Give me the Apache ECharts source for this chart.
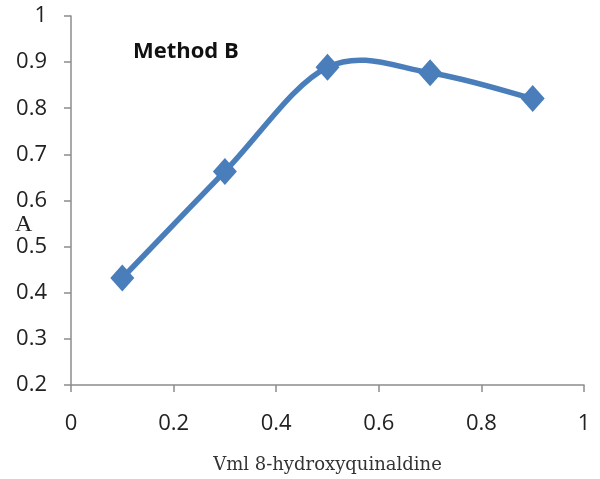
<!DOCTYPE html>
<html><head><meta charset="utf-8">
<script src="https://cdn.jsdelivr.net/npm/echarts@6/dist/echarts.min.js"></script>
<style>html,body{margin:0;padding:0;background:#fff}#c{width:600px;height:479px}</style>
</head><body><div id="c"></div>
<script>
var xValues = [0.1, 0.3, 0.5, 0.7, 0.9];
var absorbance = [0.432, 0.663, 0.889, 0.877, 0.821];
var seriesName = 'Method B';
var xAxisTitle = 'Vml 8-hydroxyquinaldine';
var yAxisTitle = 'A';

var lineColor = '#4a7ebb';
var axisColor = '#8c8c8c';
var chart = echarts.init(document.getElementById('c'));

// Excel-style smoothed line: cubic Bezier segments through the data points
function renderSegment(params, api) {
  var i = params.dataIndex;
  var n = xValues.length;
  function P(k) {
    k = Math.max(0, Math.min(n - 1, k));
    return api.coord([xValues[k], absorbance[k]]);
  }
  var p0 = P(i - 1), p1 = P(i), p2 = P(i + 1), p3 = P(i + 2);
  var t = 1 / 6;
  return {
    type: 'bezierCurve',
    shape: {
      x1: p1[0], y1: p1[1], x2: p2[0], y2: p2[1],
      cpx1: p1[0] + (p2[0] - p0[0]) * t, cpy1: p1[1] + (p2[1] - p0[1]) * t,
      cpx2: p2[0] - (p3[0] - p1[0]) * t, cpy2: p2[1] - (p3[1] - p1[1]) * t
    },
    style: {stroke: lineColor, lineWidth: 5.5, fill: null, lineCap: 'round'}
  };
}

chart.setOption({
  animation: false,
  backgroundColor: '#ffffff',
  title: {text: seriesName, left: 128, top: 36,
    textStyle: {fontFamily: 'Open Sans', fontWeight: 'bold', fontSize: 22, color: '#111'}},
  grid: {left: 71, right: 16, top: 16, bottom: 93},
  xAxis: {type: 'value', min: 0, max: 1, interval: 0.2,
    name: xAxisTitle, nameLocation: 'middle', nameGap: 71,
    nameTextStyle: {fontFamily: 'DejaVu Serif', fontSize: 18, color: '#333'},
    axisLine: {show: true, lineStyle: {color: axisColor, width: 1.5}},
    axisTick: {show: true, length: 7, lineStyle: {color: axisColor, width: 1.5}},
    axisLabel: {margin: 28, fontFamily: 'Open Sans', fontSize: 22, color: '#222',
      formatter: function(v){return String(+v.toFixed(1));}},
    splitLine: {show: false}},
  yAxis: {type: 'value', min: 0.2, max: 1, interval: 0.1,
    axisLine: {show: true, lineStyle: {color: axisColor, width: 1.5}},
    axisTick: {show: true, length: 7, lineStyle: {color: axisColor, width: 1.5}},
    axisLabel: {margin: 24, fontFamily: 'Open Sans', fontSize: 22, color: '#222',
      formatter: function(v){return String(+v.toFixed(1));}},
    splitLine: {show: false}},
  graphic: [{type: 'text', left: 15, top: 213,
    style: {text: yAxisTitle, fontFamily: 'Liberation Serif', fontSize: 24, fill: '#222'}}],
  series: [
    {type: 'custom', name: seriesName, renderItem: renderSegment,
      data: xValues.slice(0, -1).map(function(x, i){return [x, absorbance[i]];}),
      z: 2},
    {type: 'scatter', name: seriesName,
      data: xValues.map(function(x, i){return [x, absorbance[i]];}),
      symbol: 'diamond', symbolSize: [24, 27],
      itemStyle: {color: lineColor, opacity: 1}, z: 3}
  ]
});
</script></body></html>
